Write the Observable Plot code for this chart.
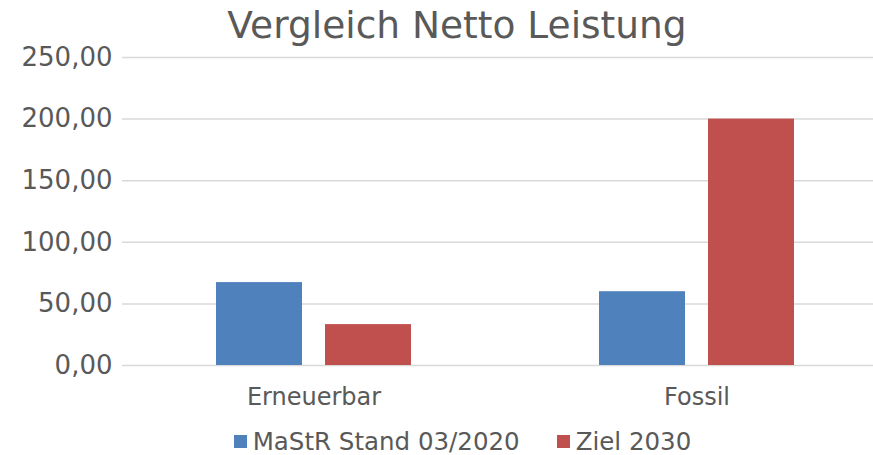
<!DOCTYPE html>
<html>
<head>
<meta charset="utf-8">
<script src="https://cdn.jsdelivr.net/npm/d3@7"></script>
<script src="https://cdn.jsdelivr.net/npm/@observablehq/plot@0.6"></script>
<style>
  html, body { margin: 0; padding: 0; background: #fff; }
  #wrap { width: 873px; height: 455px; position: relative; font-family: "DejaVu Sans", Verdana, sans-serif; color: #595959; overflow: hidden; }
  #title { position: absolute; left: 0; top: 2px; width: 873px; text-align: center; font-size: 37.5px; line-height: 46px; padding-left: 41px; box-sizing: border-box; }
  #chart { position: absolute; left: 0; top: 46px; }
  #chart svg { overflow: visible; }
  #legend { position: absolute; left: 0; top: 425px; width: 873px; height: 32px; display: flex; justify-content: center; align-items: center; font-size: 24.5px; gap: 37px; padding-left: 52px; box-sizing: border-box; }
  .item { display: flex; align-items: center; }
  .sw { width: 13px; height: 13px; margin-right: 6px; }
</style>
</head>
<body>
<div id="wrap">
  <div id="title">Vergleich Netto Leistung</div>
  <div id="chart"></div>
  <div id="legend"></div>
</div>
<script>
const categories = ["Erneuerbar", "Fossil"];
const series = ["MaStR Stand 03/2020", "Ziel 2030"];
const mastrValues = [67.3, 59.9];
const zielValues = [33.2, 200.0];
const yTicks = [0, 50, 100, 150, 200, 250];
const colors = ["#4f81bd", "#c0504d"];

const data = [];
categories.forEach((c, i) => {
  data.push({cat: c, series: series[0], value: mastrValues[i]});
  data.push({cat: c, series: series[1], value: zielValues[i]});
});

const fmt = d => d.toFixed(2).replace(".", ",");

const chart = Plot.plot({
  width: 873,
  height: 370,
  marginLeft: 122,
  marginRight: -15,
  marginTop: 11,
  marginBottom: 51,
  style: {fontFamily: "DejaVu Sans, Verdana, sans-serif", color: "#595959", background: "transparent", overflow: "visible"},
  fx: {domain: categories, padding: 0, label: null, axis: null},
  x: {domain: series, axis: null, paddingInner: 0.211, paddingOuter: 0.862},
  y: {domain: [0, 250], label: null, axis: null},
  color: {domain: series, range: colors},
  marks: [
    Plot.ruleY(yTicks, {stroke: "#d9d9d9", strokeWidth: 1.5}),
    Plot.barY(data, {fx: "cat", x: "series", y: "value", fill: "series"}),
    Plot.axisY(yTicks, {tickSize: 0, tickPadding: 10, fontSize: 26, tickFormat: fmt, label: null, fill: "#595959"}),
    Plot.axisFx({anchor: "bottom", tickSize: 0, tickPadding: 22, fontSize: 24, label: null, fill: "#595959"})
  ]
});
document.getElementById("chart").appendChild(chart);

const legend = document.getElementById("legend");
series.forEach((s, i) => {
  const item = document.createElement("div");
  item.className = "item";
  const sw = document.createElement("div");
  sw.className = "sw";
  sw.style.background = colors[i];
  const t = document.createElement("span");
  t.textContent = s;
  item.appendChild(sw);
  item.appendChild(t);
  legend.appendChild(item);
});
</script>
</body>
</html>
